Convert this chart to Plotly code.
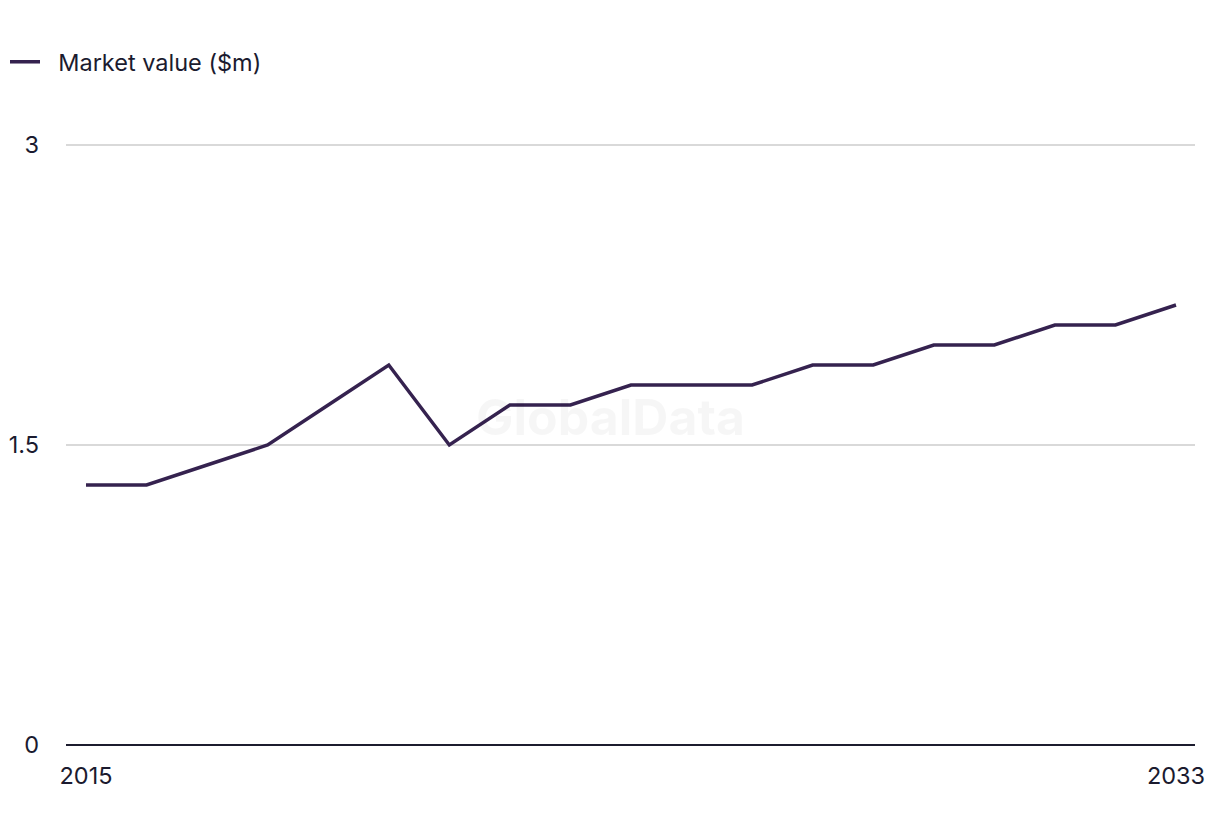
import plotly.graph_objects as go

years = list(range(2015, 2034))
market_value = [1.3, 1.3, 1.4, 1.5, 1.7, 1.9, 1.5, 1.7, 1.7, 1.8, 1.8, 1.8, 1.9, 1.9, 2.0, 2.0, 2.1, 2.1, 2.2]
y_ticks = [0, 1.5, 3]
y_tick_labels = ["0", "1.5", "3"]
x_ticks = [2015, 2033]
x_tick_labels = ["2015", "2033"]

W, H = 1220, 836
L, R, T, B = 66, 25, 143, 91
step = (1176 - 86) / 18
x0 = 2015 - (86 - L) / step
x1 = 2033 + (W - R - 1176) / step

FONT = "Inter"
FS = 23.5
TXT = "#1b1b2f"

fig = go.Figure()
fig.add_trace(go.Scatter(
    x=years, y=market_value, mode="lines", name="\u00a0\u00a0Market value ($m)",
    line=dict(color="#35224f", width=3.5),
))

fig.add_annotation(
    text="<b>GlobalData</b>", x=0.5, y=0.5, xref="paper", yref="paper",
    showarrow=False, font=dict(size=50, color="rgba(0,0,0,0.035)", family=FONT),
    xshift=-20, yshift=27,
)

fig.update_layout(
    width=W, height=H,
    margin=dict(l=L, r=R, t=T, b=B, autoexpand=False),
    paper_bgcolor="white", plot_bgcolor="white",
    font=dict(family=FONT, size=FS, color=TXT),
    showlegend=True,
    legend=dict(
        orientation="h", xref="container", yref="container",
        x=5 / W, y=1 - 40 / H, xanchor="left", yanchor="top",
        font=dict(size=FS, color=TXT),
    ),
    xaxis=dict(
        range=[x0, x1], tickvals=x_ticks, ticktext=x_tick_labels,
        showgrid=False, zeroline=False, showline=False, ticks="",
        tickfont=dict(size=FS), ticklabelstandoff=14, fixedrange=True,
        automargin=False,
    ),
    yaxis=dict(
        range=[0, 3.01], tickvals=y_ticks, ticktext=y_tick_labels,
        showgrid=True, gridcolor="#d9d9d9", gridwidth=1.5,
        zeroline=True, zerolinecolor="#1c1c2e", zerolinewidth=2,
        showline=False, ticks="", ticklabelstandoff=26,
        tickfont=dict(size=FS), automargin=False,
    ),
)

fig.write_html("out.html")
